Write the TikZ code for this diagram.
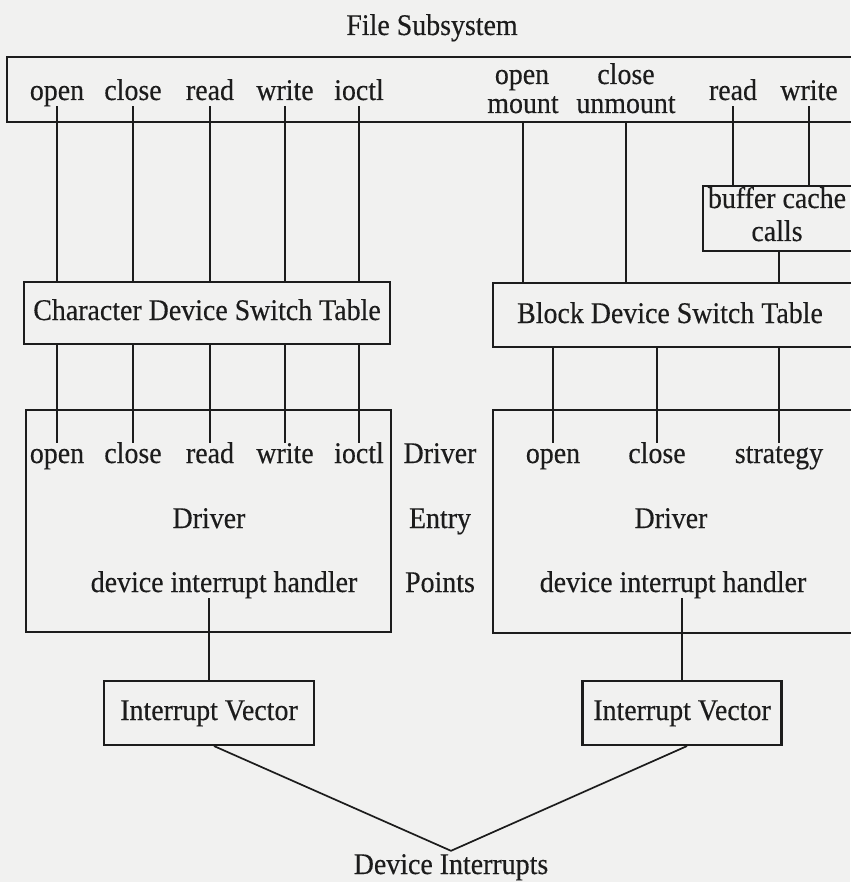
\documentclass[tikz,border=0pt]{standalone}
\usepackage{fontspec}
\setmainfont{Liberation Serif}[FakeStretch=0.93,FakeBold=0.35]
\definecolor{ink}{HTML}{1C1C1C}
\definecolor{paper}{HTML}{F1F1F0}
\begin{document}
\begin{tikzpicture}[x=1pt,y=-1pt,
  box/.style={draw=ink, line width=2.1pt, inner sep=0pt, rectangle,
    text height=20pt, text depth=6pt, font=\fontsize{30}{34}\selectfont, text=ink},
  lbl/.style={anchor=base, inner sep=0pt, text height=20pt, text depth=6pt,
    font=\fontsize{30}{34}\selectfont, text=ink},
  wire/.style={draw=ink, line width=1.4pt}]
\fill[paper] (0,0) rectangle (850,882);
\useasboundingbox (0,0) rectangle (850,882);

% boxes
\node[box, minimum width=863pt, minimum height=65pt] (fs) at (438.5,89.5) {};
\node[box, minimum width=167pt, minimum height=65pt] (bc) at (786.5,218.5) {};
\node[box, minimum width=366pt, minimum height=62pt] (cdst) at (207,313) {Character Device Switch Table};
\node[box, minimum width=377pt, minimum height=64pt] (bdst) at (681.5,315) {};
\node[box, minimum width=365pt, minimum height=222pt] (drv1) at (208.5,521) {};
\node[box, minimum width=377pt, minimum height=223pt] (drv2) at (681.5,521.5) {};
\node[box, minimum width=210pt, minimum height=64pt] (iv1) at (209,713) {Interrupt Vector};
\node[box, minimum width=199pt, minimum height=64pt] (iv2) at (682,713) {Interrupt Vector};

% labels
\node[lbl] (fst) at (432,35) {File Subsystem};
\node[lbl] (t1) at (57,100) {open};
\node[lbl] (t2) at (133,100) {close};
\node[lbl] (t3) at (210,100) {read};
\node[lbl] (t4) at (285,100) {write};
\node[lbl] (t5) at (359,100) {ioctl};
\node[lbl] (tOpen2) at (522,84) {open};
\node[lbl] (tMount) at (523,113) {mount};
\node[lbl] (tClose2) at (626,84) {close};
\node[lbl] (tUnmount) at (626,113) {unmount};
\node[lbl] (tRead2) at (733,100) {read};
\node[lbl] (tWrite2) at (809,100) {write};
\node[lbl] (bcA) at (777,208) {buffer cache};
\node[lbl] (bcB) at (777,241) {calls};
\node[lbl] (bdstT) at (670,323) {Block Device Switch Table};
\node[lbl] (d1) at (57,463) {open};
\node[lbl] (d2) at (133,463) {close};
\node[lbl] (d3) at (210,463) {read};
\node[lbl] (d4) at (285,463) {write};
\node[lbl] (d5) at (359,463) {ioctl};
\node[lbl] (dOpen2) at (553,463) {open};
\node[lbl] (dClose2) at (657,463) {close};
\node[lbl] (dStrat) at (779,463) {strategy};
\node[lbl] (drvT1) at (209,528) {Driver};
\node[lbl] (dih1) at (224,592) {device interrupt handler};
\node[lbl] (drvT2) at (671,528) {Driver};
\node[lbl] (dih2) at (673,592) {device interrupt handler};
\node[lbl] (mDriver) at (440,463) {Driver};
\node[lbl] (mEntry) at (440,528) {Entry};
\node[lbl] (mPoints) at (440,592) {Points};
\node[lbl] (di) at (451,874) {Device Interrupts};

% connectors, character side
\foreach \n in {1,...,5}{
  \draw[wire] (t\n.south) -- (t\n.south |- cdst.north);
  \draw[wire] (t\n.south |- cdst.south) -- (t\n.south |- d\n.north);
}
% connectors, block side
\draw[wire] (tMount |- fs.south) -- (tMount |- bdst.north);
\draw[wire] (tUnmount |- fs.south) -- (tUnmount |- bdst.north);
\draw[wire] (tRead2.south) -- (tRead2.south |- bc.north);
\draw[wire] (tWrite2.south) -- (tWrite2.south |- bc.north);
\draw[wire] (dStrat |- bc.south) -- (dStrat |- bdst.north);
\foreach \m in {dOpen2,dClose2,dStrat}{
  \draw[wire] (\m |- bdst.south) -- (\m.north);
}
% drivers to interrupt vectors
\draw[wire] (iv1.north |- dih1.south) -- (iv1.north);
\draw[wire] (iv2.north |- dih2.south) -- (iv2.north);
% interrupt vectors to device interrupts
\coordinate (apex) at ([yshift=3pt]di.north);
\draw[wire, line width=1.7pt] ([xshift=5pt]iv1.south) -- (apex) -- ([xshift=5pt]iv2.south);
\end{tikzpicture}
\end{document}
